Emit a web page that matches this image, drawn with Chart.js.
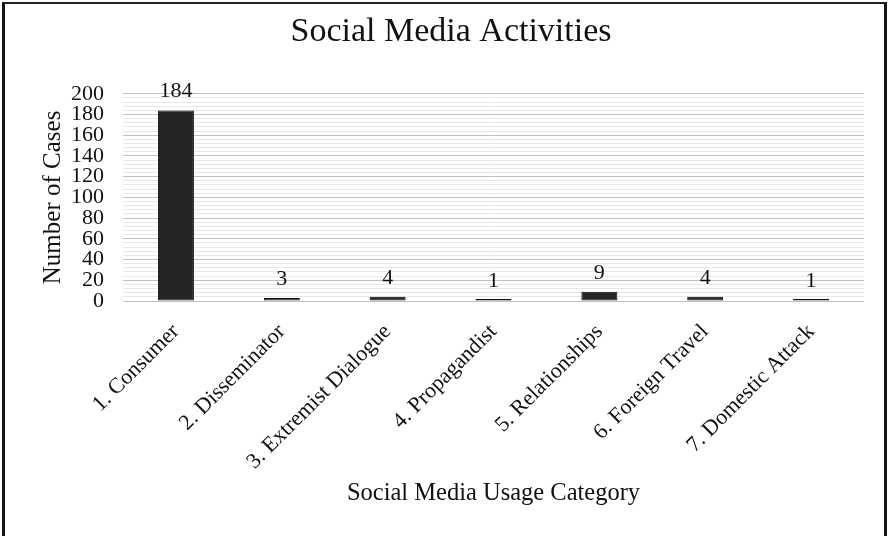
<!DOCTYPE html>
<html>
<head>
<meta charset="utf-8">
<title>Social Media Activities</title>
<script src="https://cdn.jsdelivr.net/npm/chart.js@4.4.1/dist/chart.umd.min.js"></script>
<style>
  html, body { margin: 0; padding: 0; background: #fff; }
  #wrap { position: relative; width: 890px; height: 536px; overflow: hidden; }
  #frame {
    position: absolute; left: 2px; top: 2px; width: 879px; height: 560px;
    border-top: 2px solid #222; border-left: 3px solid #151515; border-right: 3px solid #151515;
    pointer-events: none;
  }
  canvas { position: absolute; left: 0; top: 0; }
</style>
</head>
<body>
<div id="wrap">
  <canvas id="chart" width="890" height="536"></canvas>
  <div id="frame"></div>
</div>
<script>
// Usage categories and number of cases in each
const categories = [
  '1. Consumer',
  '2. Disseminator',
  '3. Extremist Dialogue',
  '4. Propagandist',
  '5. Relationships',
  '6. Foreign Travel',
  '7. Domestic Attack'
];
const cases = [184, 3, 4, 1, 9, 4, 1];

// Value axis: labelled every 20, faint minor lines every 4
const yMin = 0;
const yMax = 200;
const yMinorStep = 4;
const yLabelStep = 20;

const serif = "'Liberation Serif', 'Times New Roman', serif";
const ink = '#111';

// Writes each bar's value just above it
const valueLabels = {
  id: 'valueLabels',
  afterDatasetsDraw(chart) {
    const ctx = chart.ctx;
    const meta = chart.getDatasetMeta(0);
    const base = chart.scales.y;
    ctx.save();
    ctx.font = '22px ' + serif;
    ctx.fillStyle = ink;
    ctx.textAlign = 'center';
    ctx.textBaseline = 'alphabetic';
    meta.data.forEach((bar, i) => {
      const top = base.getPixelForValue(cases[i]);
      ctx.fillText(String(cases[i]), bar.x, top - 13);
    });
    ctx.restore();
  }
};

new Chart(document.getElementById('chart'), {
  type: 'bar',
  data: {
    labels: categories,
    datasets: [{
      data: cases,
      backgroundColor: '#252525',
      borderColor: '#0e0e0e',
      borderWidth: 1,
      borderSkipped: false,
      minBarLength: 2,
      categoryPercentage: 1.0,
      barPercentage: 0.34
    }]
  },
  options: {
    responsive: false,
    animation: false,
    layout: { padding: { left: 38, right: 26, top: 0, bottom: 28 } },
    plugins: {
      legend: { display: false },
      tooltip: { enabled: false },
      title: {
        display: true,
        text: 'Social Media Activities',
        color: ink,
        font: { family: serif, size: 34, weight: 'normal' },
        padding: { top: 12, bottom: 41 }
      }
    },
    scales: {
      x: {
        grid: { display: false, drawTicks: false },
        border: { display: false },
        ticks: {
          color: ink,
          font: { family: serif, size: 22 },
          minRotation: 45,
          maxRotation: 45,
          padding: 18,
          autoSkip: false
        },
        title: {
          display: true,
          text: 'Social Media Usage Category',
          color: ink,
          font: { family: serif, size: 24.5 },
          padding: 0
        },
        afterFit(scale) { scale.height = 207; }
      },
      y: {
        min: yMin,
        max: yMax,
        grid: {
          drawTicks: false,
          color: (c) => (c.tick && c.tick.value % yLabelStep === 0) ? '#c2c2c2' : '#e8e8e8',
          lineWidth: 1
        },
        border: { display: false },
        ticks: {
          stepSize: yMinorStep,
          autoSkip: false,
          color: ink,
          font: { family: serif, size: 22 },
          padding: 19,
          callback: (v) => (v % yLabelStep === 0 ? v : '')
        },
        title: {
          display: true,
          text: 'Number of Cases',
          color: ink,
          font: { family: serif, size: 25 },
          padding: 0
        },
        afterFit(scale) { scale.width = 85; }
      }
    }
  },
  plugins: [valueLabels]
});
</script>
</body>
</html>
